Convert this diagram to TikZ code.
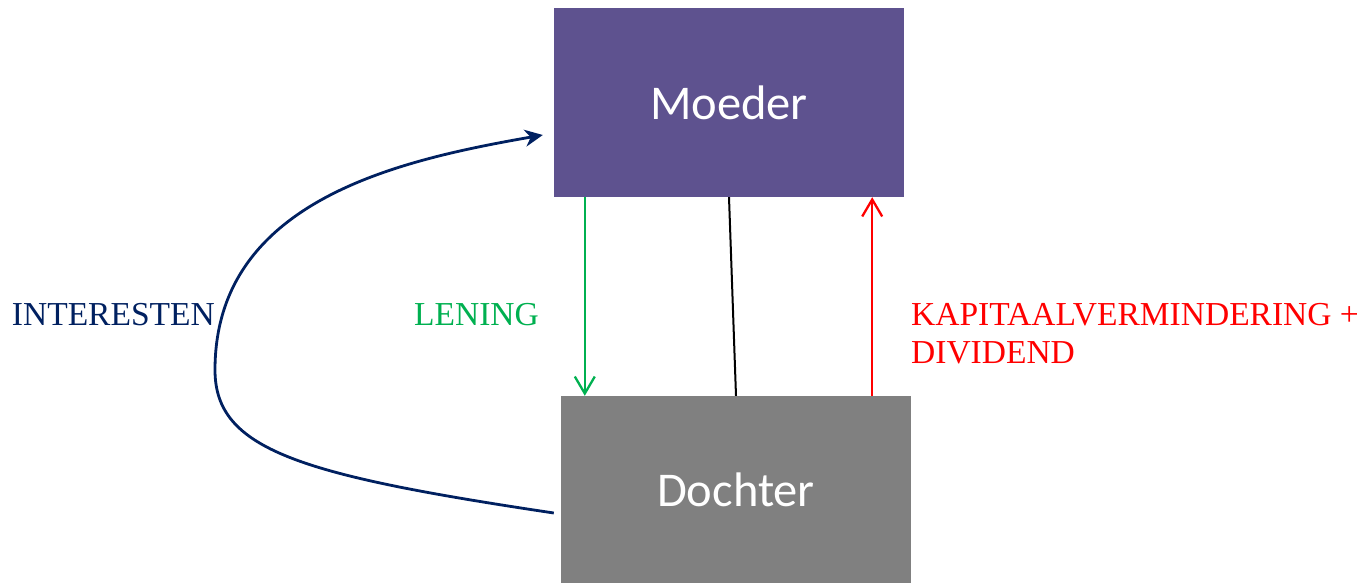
\documentclass[tikz,border=0pt]{standalone}
\usepackage{fontspec}
\setmainfont{Liberation Serif}
\newfontfamily\boxfont{Carlito}
\usetikzlibrary{arrows.meta,calc}
\definecolor{moedercol}{RGB}{94,82,143}
\definecolor{dochtercol}{RGB}{128,128,128}
\definecolor{navy}{RGB}{0,32,96}
\definecolor{lgreen}{RGB}{0,176,80}
\tikzset{
  entity/.style={rectangle, inner sep=0pt, text=white, font=\boxfont\fontsize{48.5}{58}\selectfont,
    minimum width=350pt, minimum height=189pt},
  lbl/.style={inner sep=0pt, font=\fontsize{33.5}{38}\selectfont},
  flow/.style={line width=2.3pt, -{Straight Barb[length=17pt,width=20pt,line width=2.3pt]}},
}
\begin{document}
\begin{tikzpicture}[x=1pt,y=-1pt]
\useasboundingbox (0,0) rectangle (1358,583);
\node[entity, fill=moedercol, minimum height=189pt] (moeder) at (729,102.5) {Moeder};
\node[entity, fill=dochtercol, minimum height=187pt] (dochter) at (736,489.5) {Dochter};
% lening
\draw[flow, lgreen] ([xshift=31pt]moeder.south west) -- ([xshift=31pt]moeder.south west |- dochter.north);
% black line
\draw[line width=2pt, black] (moeder.south) -- (dochter.north);
% kapitaalvermindering
\draw[flow, red] ([xshift=-32pt]moeder.south east |- dochter.north) -- ([xshift=-32pt]moeder.south east);
% interesten
\coordinate (istart) at ($(dochter.west)+(-7,23.5)$);
\coordinate (iend) at ($(moeder.west)+(-11,32.5)$);
\draw[navy, line width=2.8pt, -{Stealth[length=18pt,width=17pt]}]
  (istart) .. controls (300,475) and (215,450) .. (215,370)
  .. controls (215,200) and (400,160) .. (iend);
% labels
\node[lbl, text=navy, anchor=base east] (linterest) at (215,325) {INTERESTEN};
\node[lbl, text=lgreen, anchor=base east] (llening) at (539,325) {LENING};
\node[lbl, text=red, anchor=base west, align=left] (lkap) at (911,363) {KAPITAALVERMINDERING +\\DIVIDEND};
\end{tikzpicture}
\end{document}
